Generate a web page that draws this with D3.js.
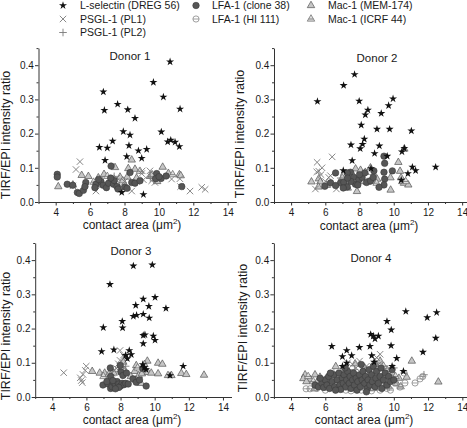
<!DOCTYPE html>
<html><head><meta charset="utf-8">
<script src="https://cdn.jsdelivr.net/npm/d3@7"></script>
<style>
body{margin:0;background:#fff}
text{font-family:"Liberation Sans",Arial,sans-serif;fill:#1a1a1a}
</style>
</head><body>
<svg id="chart" width="467" height="428"></svg>
<script>
// ---------- labels ----------
const seriesKeys  = ["Lsel","PL1","PL2","LFA38","HI111","MEM","ICRF"];
const seriesNames = ["L-selectin (DREG 56)","PSGL-1 (PL1)","PSGL-1 (PL2)","LFA-1 (clone 38)","LFA-1 (HI 111)","Mac-1 (MEM-174)","Mac-1 (ICRF 44)"];
const donorTitles = ["Donor 1","Donor 2","Donor 3","Donor 4"];
const xTicks = [4,6,8,10,12,14];
const xMinorTicks = [3,5,7,9,11,13];
const yTicks = [0.0,0.1,0.2,0.3,0.4];
const yMinorTicks = [0.05,0.15,0.25,0.35,0.45];
const xDomain = [3,14.5];
const yDomain = [0,0.45];
const xLabelMain = "contact area (\u03bcm", xLabelSup = "2", xLabelEnd = ")";
const yLabel = "TIRF/EPI intensity ratio";

// ---------- Donor 1 ----------
const d1Lsel = [[10.65,0.41],[9.68,0.35],[10.26,0.307],[6.77,0.322],[6.83,0.268],[7.6,0.286],[8.19,0.27],[11.23,0.272],[8.61,0.245],[7.93,0.206],[8.32,0.196],[10.14,0.205],[7.31,0.178],[10.51,0.176],[10.69,0.181],[10.94,0.175],[11.19,0.162],[6.54,0.16],[7.0,0.158],[8.26,0.165],[8.81,0.15],[9.29,0.154],[6.87,0.122],[8.13,0.133],[9.0,0.128],[7.84,0.028],[9.1,0.022]];
const d1PL1 = [[5.41,0.118],[5.18,0.095],[5.0,0.047],[6.34,0.032],[8.42,0.032],[7.56,0.07],[9.03,0.091],[9.0,0.083],[9.48,0.091],[9.58,0.062],[9.77,0.057],[10.74,0.067],[11.22,0.068],[11.26,0.045],[11.81,0.032],[12.49,0.043],[12.69,0.037],[7.2,0.062],[6.6,0.065],[8.0,0.06],[8.7,0.06],[9.1,0.065]];
const d1PL2 = [[7.4,0.075],[9.5,0.07],[6.5,0.055]];
const d1LFA38 = [[4.09,0.081],[4.09,0.073],[4.67,0.052],[4.99,0.049],[5.26,0.028],[5.37,0.025],[5.61,0.034],[5.75,0.057],[5.70,0.045],[6.34,0.052],[6.28,0.042],[6.63,0.060],[6.76,0.049],[6.95,0.042],[7.22,0.105],[7.07,0.055],[7.36,0.052],[7.56,0.045],[7.62,0.038],[8.01,0.044],[8.15,0.040],[8.32,0.086],[8.42,0.057],[8.61,0.055],[9.87,0.083],[9.81,0.068],[10.13,0.069],[10.01,0.074],[10.42,0.076],[11.33,0.045],[7.4,0.063],[6.5,0.066],[8.9,0.062],[7.2,0.07]];
const d1HI111 = [];
const d1MEM = [[4.15,0.045],[5.0,0.05],[5.51,0.078],[5.9,0.075],[6.48,0.071],[6.81,0.081],[7.45,0.101],[7.74,0.073],[8.22,0.098],[8.42,0.123],[8.61,0.096],[8.16,0.073],[10.22,0.102],[10.55,0.084],[11.19,0.080],[11.27,0.077],[9.48,0.075],[6.6,0.06],[7.1,0.055],[7.2,0.065],[8.7,0.07],[9.6,0.08],[9.9,0.06],[6.4,0.05],[7.9,0.062]];
const d1ICRF = [[7.0,0.075],[8.9,0.09],[10.8,0.08],[6.2,0.058],[7.6,0.05]];

// ---------- Donor 2 ----------
const d2Lsel = [[7.71,0.373],[7.07,0.341],[5.54,0.294],[9.96,0.302],[7.98,0.295],[9.70,0.282],[8.49,0.269],[8.34,0.255],[9.27,0.259],[8.10,0.225],[9.02,0.213],[9.76,0.213],[11.03,0.208],[8.28,0.184],[8.18,0.169],[8.04,0.156],[7.50,0.167],[9.16,0.164],[10.62,0.157],[8.88,0.142],[10.48,0.147],[7.57,0.121],[9.62,0.134],[8.67,0.098],[7.05,0.092],[10.83,0.083],[11.09,0.102],[11.28,0.092],[12.45,0.102],[10.44,0.064]];
const d2PL1 = [[6.40,0.132],[5.52,0.116],[5.81,0.10],[5.62,0.09],[6.30,0.077],[6.65,0.038],[5.42,0.038],[6.0,0.06],[5.75,0.08],[6.2,0.072],[5.5,0.088],[7.3,0.05],[8.5,0.06]];
const d2PL2 = [[6.9,0.07],[8.8,0.08]];
const d2LFA38 = [[9.43,0.134],[9.47,0.113],[6.60,0.085],[5.97,0.046],[6.31,0.056],[7.47,0.087],[7.28,0.085],[6.89,0.056],[7.08,0.058],[7.66,0.072],[7.76,0.052],[7.96,0.065],[8.15,0.072],[8.41,0.057],[8.64,0.062],[8.80,0.072],[8.84,0.091],[9.43,0.087],[9.92,0.091],[9.47,0.067],[9.43,0.050],[9.14,0.043],[7.28,0.044],[7.05,0.041],[7.5,0.06],[7.9,0.05],[8.3,0.085],[6.6,0.048],[7.3,0.07],[8.0,0.08]];
const d2HI111 = [];
const d2MEM = [[5.19,0.059],[5.62,0.068],[5.71,0.059],[6.09,0.049],[5.6,0.044],[6.99,0.071],[7.77,0.097],[8.06,0.093],[7.31,0.041],[8.64,0.10],[8.45,0.058],[8.84,0.060],[9.03,0.067],[9.82,0.035],[10.27,0.116],[10.37,0.09],[10.5,0.06],[10.6,0.055],[10.85,0.05],[9.81,0.071],[10.62,0.155],[7.85,0.031],[10.43,0.071],[8.34,0.087],[7.6,0.08],[7.4,0.06],[8.2,0.06]];
const d2ICRF = [[7.2,0.05],[9.0,0.055],[10.7,0.06]];

// ---------- Donor 3 ----------
const d3Lsel = [[8.75,0.383],[9.86,0.386],[7.38,0.329],[9.33,0.286],[10.02,0.291],[8.89,0.268],[9.66,0.265],[10.66,0.259],[8.75,0.236],[8.94,0.239],[9.33,0.242],[9.68,0.231],[8.10,0.221],[6.99,0.203],[8.12,0.202],[9.33,0.180],[9.43,0.182],[9.92,0.178],[10.02,0.166],[9.33,0.156],[6.89,0.133],[7.61,0.138],[8.51,0.136],[8.30,0.122],[8.63,0.124],[11.67,0.090],[10.90,0.063],[8.4,0.112],[9.39,0.086],[9.3,0.095],[9.5,0.08]];
const d3PL1 = [[4.67,0.071],[5.99,0.09],[5.93,0.078],[5.80,0.066],[5.64,0.056],[5.70,0.048],[5.76,0.042],[7.97,0.136],[8.16,0.122],[7.97,0.107],[7.87,0.097],[8.07,0.092],[7.77,0.083],[7.61,0.078],[7.32,0.066],[8.24,0.115],[7.5,0.07]];
const d3PL2 = [[7.9,0.075],[8.3,0.09]];
const d3LFA38 = [[6.97,0.035],[7.27,0.038],[7.42,0.025],[7.42,0.060],[7.40,0.085],[7.2,0.045],[7.5,0.030],[7.6,0.042],[7.7,0.036],[7.8,0.045],[7.9,0.038],[8.0,0.032],[8.1,0.040],[8.2,0.036],[8.3,0.040],[8.45,0.038],[7.9,0.028],[8.02,0.073],[8.14,0.063],[7.98,0.092],[8.73,0.053],[8.92,0.043],[9.11,0.050],[9.5,0.032],[7.7,0.024],[7.55,0.048],[8.35,0.07],[9.3,0.083]];
const d3HI111 = [];
const d3MEM = [[6.34,0.075],[6.78,0.070],[7.07,0.070],[7.3,0.065],[7.6,0.07],[8.08,0.083],[8.25,0.078],[8.92,0.092],[8.83,0.075],[9.07,0.063],[9.25,0.068],[9.57,0.105],[9.6,0.072],[9.8,0.07],[10.2,0.099],[10.45,0.096],[10.2,0.068],[10.78,0.063],[10.98,0.063],[11.56,0.069],[11.85,0.066],[12.89,0.064],[8.16,0.102],[9.4,0.095],[8.9,0.05],[9.2,0.04],[8.6,0.06]];
const d3ICRF = [[7.0,0.06],[9.0,0.085]];

// ---------- Donor 4 ----------
const d4Lsel = [[10.7,0.250],[12.5,0.247],[11.95,0.232],[12.45,0.172],[11.7,0.131],[9.6,0.221],[9.85,0.196],[8.65,0.183],[8.8,0.178],[8.9,0.170],[9.1,0.178],[9.84,0.150],[8.61,0.148],[6.38,0.148],[7.25,0.136],[7.0,0.118],[7.54,0.121],[7.99,0.145],[8.71,0.121],[10.17,0.113],[7.25,0.099],[8.85,0.102],[10.56,0.075],[7.0,0.09],[9.9,0.09]];
const d4PL1 = [[7.3,0.1],[7.6,0.095],[8.0,0.105],[8.4,0.09],[8.9,0.11],[9.1,0.095],[8.2,0.08],[7.8,0.085],[9.3,0.08],[6.9,0.07],[9.7,0.065],[8.7,0.06],[7.2,0.06],[9.2,0.125],[9.0,0.115]];
const d4PL2 = [[6.1,0.05],[7.0,0.03],[7.7,0.08],[8.3,0.03],[8.8,0.08],[9.4,0.035],[10.0,0.085],[11.76,0.065],[6.5,0.07],[9.9,0.05]];
const d4LFA38 = [[5.4,0.035],[5.6,0.03],[5.8,0.04],[5.9,0.028],[6.0,0.05],[6.1,0.035],[6.2,0.06],[6.25,0.025],[6.4,0.045],[6.5,0.065],[6.55,0.03],[6.7,0.05],[6.8,0.07],[6.85,0.035],[6.9,0.022],[7.0,0.055],[7.05,0.04],[7.1,0.065],[7.2,0.03],[7.25,0.05],[7.3,0.075],[7.4,0.04],[7.45,0.06],[7.5,0.025],[7.6,0.05],[7.65,0.07],[7.7,0.035],[7.8,0.055],[7.85,0.02],[7.9,0.045],[8.0,0.065],[8.05,0.03],[8.15,0.05],[8.2,0.075],[8.3,0.04],[8.35,0.06],[8.45,0.025],[8.5,0.05],[8.55,0.08],[8.6,0.035],[8.7,0.065],[8.75,0.045],[8.8,0.09],[8.9,0.03],[8.95,0.055],[9.0,0.075],[9.1,0.04],[9.2,0.06],[9.25,0.085],[9.3,0.025],[9.4,0.05],[9.5,0.07],[9.6,0.035],[9.7,0.06],[9.8,0.045],[9.9,0.08],[10.0,0.05],[6.3,0.07],[5.7,0.055],[7.15,0.085],[8.1,0.095],[6.6,0.02],[8.4,0.015]];
const d4HI111 = [[4.88,0.024],[5.11,0.024],[5.5,0.025],[6.0,0.02],[7.5,0.018],[8.1,0.02],[8.7,0.018],[9.0,0.03],[9.3,0.04],[9.6,0.025],[10.07,0.041],[10.36,0.029],[10.65,0.041],[10.6,0.07],[11.24,0.041],[11.53,0.053],[11.69,0.06],[7.9,0.04],[8.5,0.03],[9.8,0.02],[6.7,0.025],[7.2,0.02],[9.2,0.02]];
const d4MEM = [[4.82,0.065],[4.72,0.054],[5.11,0.052],[5.40,0.065],[5.5,0.041],[5.69,0.058],[6.61,0.089],[7.74,0.097],[5.36,0.024],[4.9,0.045],[11.05,0.105],[10.75,0.058],[12.6,0.044],[10.17,0.039],[9.97,0.063],[9.5,0.03],[8.9,0.04],[6.0,0.05],[6.3,0.04],[6.9,0.06],[7.3,0.08],[7.6,0.065],[8.1,0.055],[8.3,0.085],[8.6,0.07],[8.9,0.095],[9.2,0.105],[9.35,0.06],[9.6,0.08],[9.9,0.07],[10.3,0.055],[7.9,0.03],[8.8,0.025],[9.1,0.045],[6.5,0.03],[7.1,0.045]];
const d4ICRF = [[5.0,0.06],[5.3,0.045],[6.2,0.065],[7.0,0.075],[7.8,0.06],[8.5,0.04],[9.0,0.065],[9.4,0.09],[9.7,0.03],[10.1,0.06],[6.7,0.055],[8.2,0.07],[10.4,0.03]];

const donorData = [
  {Lsel:d1Lsel,PL1:d1PL1,PL2:d1PL2,LFA38:d1LFA38,HI111:d1HI111,MEM:d1MEM,ICRF:d1ICRF},
  {Lsel:d2Lsel,PL1:d2PL1,PL2:d2PL2,LFA38:d2LFA38,HI111:d2HI111,MEM:d2MEM,ICRF:d2ICRF},
  {Lsel:d3Lsel,PL1:d3PL1,PL2:d3PL2,LFA38:d3LFA38,HI111:d3HI111,MEM:d3MEM,ICRF:d3ICRF},
  {Lsel:d4Lsel,PL1:d4PL1,PL2:d4PL2,LFA38:d4LFA38,HI111:d4HI111,MEM:d4MEM,ICRF:d4ICRF}
];

// ---------- layout (pixels) ----------
const panels = [
  {xr:[38.5,236.3], yr:[202,48.1], title:[130,60], yl:[9.5,135], xl:[132,229]},
  {xr:[274,470.7],  yr:[202,48.1], title:[377,62], yl:[244,134], xl:[369,230]},
  {xr:[35.2,231.5], yr:[397,243],  title:[131,255], yl:[9.5,336], xl:[132,424]},
  {xr:[273.9,470.9],yr:[397,243],  title:[371,262], yl:[247,328], xl:[364,424]}
];

const svg = d3.select("#chart");

// ---------- marker shapes ----------
const starGen = d3.symbol().type(d3.symbolStar).size(20);
const circGen = d3.symbol().type(d3.symbolCircle).size(33);
const triGen  = d3.symbol().type(d3.symbolTriangle).size(24);
function drawMarker(g, key, x, y) {
  const t = `translate(${x},${y})`;
  if (key === "Lsel") {
    g.append("path").attr("d", starGen()).attr("transform", t).attr("fill", "#111");
  } else if (key === "PL1") {
    g.append("path").attr("d", "M-3.2,-3.2L3.2,3.2M-3.2,3.2L3.2,-3.2").attr("transform", t)
      .attr("stroke", "#7a7a7a").attr("stroke-width", 0.9).attr("fill", "none");
  } else if (key === "PL2") {
    g.append("path").attr("d", "M-3.8,0H3.8M0,-3.8V3.8").attr("transform", t)
      .attr("stroke", "#7a7a7a").attr("stroke-width", 0.9).attr("fill", "none");
  } else if (key === "LFA38") {
    g.append("path").attr("d", circGen()).attr("transform", t)
      .attr("fill", "#565656").attr("stroke", "#3a3a3a").attr("stroke-width", 0.6);
  } else if (key === "HI111") {
    g.append("path").attr("d", "M-3.1,0H3.1").attr("transform", t).attr("stroke", "#888").attr("stroke-width", 0.8);
    g.append("circle").attr("r", 3.1).attr("cx", x).attr("cy", y)
      .attr("fill", "none").attr("stroke", "#888").attr("stroke-width", 0.8);
  } else if (key === "MEM") {
    g.append("path").attr("d", triGen()).attr("transform", t)
      .attr("fill", "#c6c6c6").attr("stroke", "#555").attr("stroke-width", 0.7);
  } else if (key === "ICRF") {
    g.append("path").attr("d", triGen()).attr("transform", t)
      .attr("fill", "#dedede").attr("stroke", "#666").attr("stroke-width", 0.7);
    g.append("path").attr("d", "M-2.5,0H2.5").attr("transform", t).attr("stroke", "#666").attr("stroke-width", 0.7);
  }
}

// ---------- legend ----------
const legendPos = [[63,5.5,80,9],[63,19,80,22.5],[63,32.5,80,36],[196,5.5,212,9],[196,19,212,22.5],[311,5.5,328,9],[311,19,328,22.5]];
const lg = svg.append("g");
seriesKeys.forEach((k, i) => {
  const p = legendPos[i];
  drawMarker(lg, k, p[0], p[1]);
  lg.append("text").attr("x", p[2]).attr("y", p[3]).attr("font-size", 10.5).text(seriesNames[i]);
});

// ---------- panels ----------
const drawOrder = ["MEM","ICRF","PL1","PL2","HI111","LFA38","Lsel"];
panels.forEach((P, pi) => {
  const x = d3.scaleLinear().domain(xDomain).range(P.xr);
  const y = d3.scaleLinear().domain(yDomain).range(P.yr);
  const g = svg.append("g");

  // minor ticks
  g.append("g").attr("transform", `translate(0,${P.yr[0]})`)
    .call(d3.axisBottom(x).tickValues(xMinorTicks).tickSize(2).tickSizeOuter(0).tickFormat(""))
    .call(s => s.select(".domain").remove());
  g.append("g").attr("transform", `translate(${P.xr[0]},0)`)
    .call(d3.axisLeft(y).tickValues(yMinorTicks).tickSize(2).tickSizeOuter(0).tickFormat(""))
    .call(s => s.select(".domain").remove());
  // major
  const xa = g.append("g").attr("transform", `translate(0,${P.yr[0]})`)
    .call(d3.axisBottom(x).tickValues(xTicks).tickSize(3.5).tickSizeOuter(0).tickPadding(3.4).tickFormat(d3.format("d")));
  const ya = g.append("g").attr("transform", `translate(${P.xr[0]},0)`)
    .call(d3.axisLeft(y).tickValues(yTicks).tickSize(3.5).tickSizeOuter(0).tickPadding(1.2).tickFormat(d3.format(".1f")));
  [xa, ya].forEach(a => {
    a.selectAll("text").attr("font-size", 10).attr("font-family", "Liberation Sans, Arial, sans-serif").attr("fill", "#1a1a1a");
  });
  g.selectAll(".domain, .tick line").attr("stroke", "#333");

  // points
  const pg = g.append("g");
  drawOrder.forEach(k => {
    donorData[pi][k].forEach(d => drawMarker(pg, k, x(d[0]), y(d[1])));
  });

  // titles
  g.append("text").attr("x", P.title[0]).attr("y", P.title[1]).attr("text-anchor", "middle")
    .attr("font-size", 11.5).text(donorTitles[pi]);
  g.append("text").attr("transform", `translate(${P.yl[0]},${P.yl[1]}) rotate(-90)`)
    .attr("text-anchor", "middle").attr("font-size", 12.5).text(yLabel);
  const xt = g.append("text").attr("x", P.xl[0]).attr("y", P.xl[1]).attr("text-anchor", "middle").attr("font-size", 12);
  xt.append("tspan").text(xLabelMain);
  xt.append("tspan").attr("dy", -5).attr("font-size", 8).text(xLabelSup);
  xt.append("tspan").attr("dy", 5).text(xLabelEnd);
});
</script>
</body></html>
